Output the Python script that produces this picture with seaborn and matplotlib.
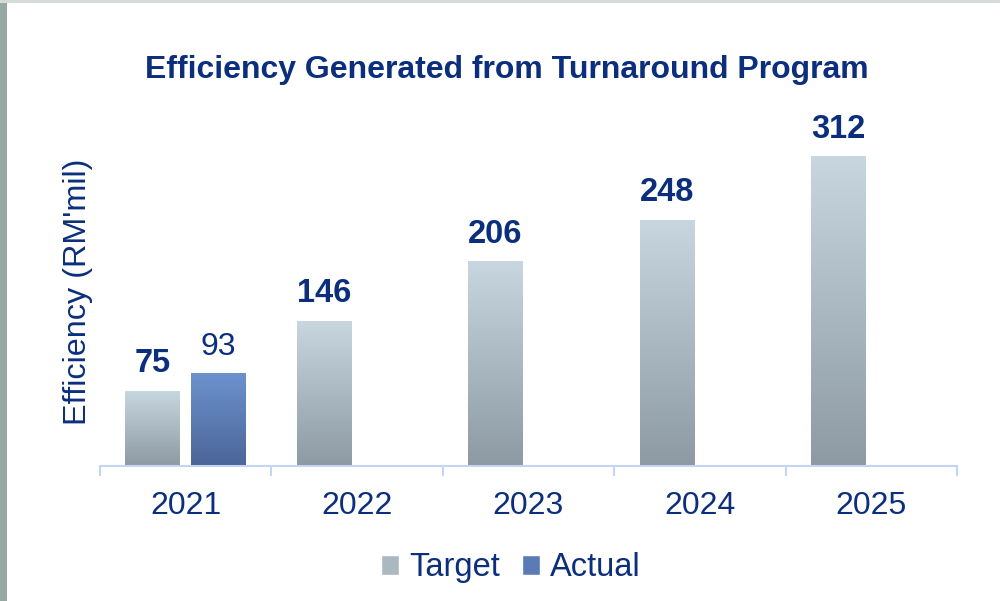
import numpy as np
import pandas as pd
import matplotlib
matplotlib.use("Agg")
import matplotlib.pyplot as plt
import seaborn as sns
from matplotlib.colors import LinearSegmentedColormap
from matplotlib.patches import Rectangle

# data
years = ["2021", "2022", "2023", "2024", "2025"]
target = [75, 146, 206, 248, 312]
actual = [93, np.nan, np.nan, np.nan, np.nan]

navy = "#0b2f7c"
axis_blue = "#c3d4f4"

df = pd.DataFrame({
    "Year": years * 2,
    "Value": target + actual,
    "Series": ["Target"] * len(years) + ["Actual"] * len(years),
})

sns.set_style("white")
plt.rcParams["font.family"] = ["Liberation Sans", "DejaVu Sans"]

fig = plt.figure(figsize=(10, 6.01), dpi=100)
ax = fig.add_axes([0.1, 0.2246, 0.857, 0.559])

sns.barplot(data=df, x="Year", y="Value", hue="Series", order=years,
            hue_order=["Target", "Actual"], width=0.77, gap=0.17,
            palette=["#aab8c1", "#5b7bb5"], ax=ax, legend=False)

ax.set_xlim(-0.5, 4.5)
ax.set_ylim(0, 339)

# gradient fill on the bars
grads = {
    "Target": LinearSegmentedColormap.from_list("t", ["#8d9aa4", "#c7d6df"]),
    "Actual": LinearSegmentedColormap.from_list("a", ["#4b6597", "#6c92ce"]),
}
grad = np.linspace(0, 1, 256).reshape(-1, 1)
for cont, name in zip(ax.containers, ["Target", "Actual"]):
    for bar in cont:
        h = bar.get_height()
        if not np.isfinite(h) or h <= 0:
            continue
        x0 = bar.get_x()
        w = bar.get_width()
        ax.imshow(grad, extent=[x0, x0 + w, 0, h], origin="lower",
                  aspect="auto", cmap=grads[name], zorder=bar.get_zorder() + 0.1)
ax.set_xlim(-0.5, 4.5)
ax.set_ylim(0, 339)

# value labels
for bar, v in zip(ax.containers[0], target):
    ax.annotate(f"{v}", (bar.get_x() + bar.get_width() / 2, v),
                xytext=(0, 20), textcoords="offset points", ha="center",
                va="center", fontsize=23.5, fontweight="bold", color=navy)
for bar, v in zip(ax.containers[1], actual):
    if np.isfinite(v):
        ax.annotate(f"{v:.0f}", (bar.get_x() + bar.get_width() / 2, v),
                    xytext=(0, 19.5), textcoords="offset points", ha="center",
                    va="center", fontsize=23, color=navy)

# axes styling
sns.despine(ax=ax, left=True)
ax.spines["bottom"].set_color(axis_blue)
ax.spines["bottom"].set_linewidth(1.5)
ax.set_yticks([])
ax.set_xlabel("")
ax.set_ylabel("")
ax.set_xticks(range(len(years)))
ax.set_xticklabels(years, fontsize=23, color=navy)
ax.tick_params(axis="x", which="major", bottom=False, length=0, pad=18)
ax.set_xticks(np.arange(-0.5, len(years)), minor=True)
ax.tick_params(axis="x", which="minor", bottom=True, length=7, width=1.5,
               color=axis_blue, direction="out")

fig.text(0.5065, 0.883, "Efficiency Generated from Turnaround Program",
         ha="center", va="center", fontsize=23, fontweight="bold", color=navy)
fig.text(0.0785, 0.514, "Efficiency (RM'mil)", rotation=90, ha="center",
         va="center", fontsize=23.3, color=navy)

handles = [Rectangle((0, 0), 1, 1, facecolor="#aab8c1"),
           Rectangle((0, 0), 1, 1, facecolor="#5b7bb5")]
leg = fig.legend(handles, ["Target", "Actual"], loc="center",
                 bbox_to_anchor=(0.511, 0.055), ncol=2, frameon=False,
                 fontsize=23.5, handlelength=0.55, handleheight=0.55,
                 handletextpad=0.3, columnspacing=0.7)
for t in leg.get_texts():
    t.set_color(navy)

# slide frame: left shaded strip and top line
fig.patches.append(Rectangle((0, 0), 0.007, 1, transform=fig.transFigure,
                             facecolor="#93aaa0", edgecolor="none"))
fig.patches.append(Rectangle((0, 0.995), 1, 0.005, transform=fig.transFigure,
                             facecolor="#d6dbd7", edgecolor="none"))

fig.savefig("out.png", dpi=100)
